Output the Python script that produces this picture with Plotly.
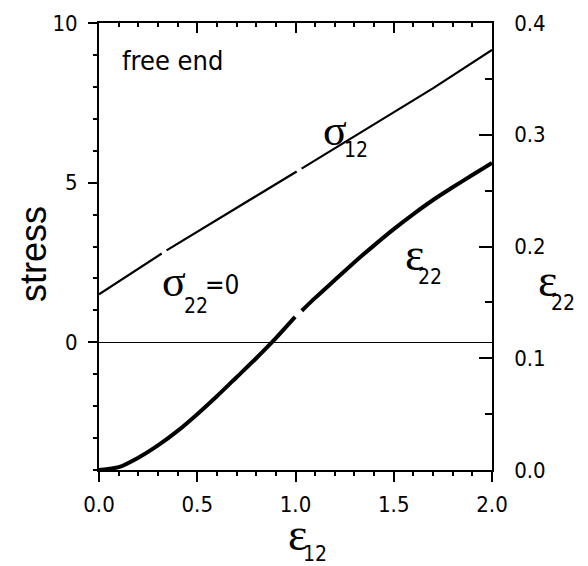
"""
Wolny koniec: naprężenie sigma_12 i odkształcenie eps_22 w funkcji eps_12 (sigma_22 = 0).
"""

import plotly.graph_objects as go

# odczyt z wykresu (None = przerwa w linii)
EPS12_SIG = [0.0, 0.319, None, 0.344, 0.768, 0.921, 1.006, None, 1.031, 1.243, 1.498, 1.701, 2.0]
SIGMA12 = [1.50, 2.78, None, 2.88, 4.47, 5.04, 5.35, None, 5.44, 6.24, 7.19, 7.96, 9.16]

EPS12_EPS = [0.0, 0.1, 0.2, 0.3, 0.4, 0.5, 0.6, 0.7, 0.8, 0.9, 0.998, None,
             1.032, 1.1, 1.2, 1.3, 1.4, 1.5, 1.6, 1.7, 1.8, 1.9, 2.0]
EPS22 = [0.0, 0.0025, 0.011, 0.022, 0.035, 0.050, 0.066, 0.083, 0.100, 0.118, 0.137, None,
         0.1425, 0.154, 0.170, 0.186, 0.201, 0.2155, 0.229, 0.2416, 0.253, 0.264, 0.2747]

X_RANGE = [0, 2]
STRESS_RANGE = [-4, 10]
EPS22_RANGE = [0, 0.4]

NARROW = "Liberation Sans Narrow, Arial Narrow, DejaVu Sans Condensed, Liberation Sans, sans-serif"
SERIF = "Liberation Serif, Times New Roman, serif"
SANS = "Liberation Sans, Arial, sans-serif"
W, H = 588, 566
ML, MR, MT, MB = 99, 96, 23, 96


def txt(text, x, y, size, family=NARROW, ref="data", **kw):
    a = dict(text=text, x=x, y=y, showarrow=False, font=dict(family=family, size=size, color="black"),
             xanchor="center", yanchor="middle")
    if ref == "paper":
        a.update(xref="paper", yref="paper")
    else:
        a.update(xref="x", yref="y")
    a.update(kw)
    return a


fig = go.Figure()
fig.add_trace(go.Scatter(x=EPS12_SIG, y=SIGMA12, mode="lines", line=dict(color="black", width=2.2),
                         connectgaps=False, showlegend=False, hoverinfo="skip"))
fig.add_trace(go.Scatter(x=EPS12_EPS, y=EPS22, mode="lines", yaxis="y2",
                         line=dict(color="black", width=4, shape="spline", smoothing=0.6),
                         connectgaps=False, showlegend=False, hoverinfo="skip"))
# pusty ślad, żeby górna oś (xaxis2) się narysowała
fig.add_trace(go.Scatter(x=[None], y=[None], xaxis="x2", showlegend=False, hoverinfo="skip"))

tickfont = dict(family=NARROW, size=22, color="black")
common = dict(showgrid=False, automargin=False, showline=True, linecolor="black", tickwidth=1.5, tickcolor="black")
fig.update_layout(
    width=W,
    height=H,
    margin=dict(l=ML, r=MR, t=MT, b=MB, autoexpand=False),
    plot_bgcolor="white",
    paper_bgcolor="white",
    xaxis=dict(range=X_RANGE, zeroline=False, linewidth=1.5,
               ticks="outside", ticklen=10, dtick=0.5, tick0=0,
               tickformat=".1f", tickfont=tickfont, ticklabelstandoff=4,
               minor=dict(ticks="outside", ticklen=4, tickwidth=1.5, tickcolor="black", dtick=0.1, showgrid=False),
               **common),
    xaxis2=dict(range=X_RANGE, overlaying="x", side="top", anchor="y", zeroline=False,
                linewidth=1.5, showticklabels=False, ticks="inside", ticklen=10, dtick=0.5, tick0=0,
                minor=dict(ticks="inside", ticklen=4, tickwidth=1.5, tickcolor="black", dtick=0.1, showgrid=False),
                **common),
    yaxis=dict(range=STRESS_RANGE, zeroline=True, zerolinecolor="black", zerolinewidth=1,
               linewidth=2, ticks="outside", ticklen=9, dtick=5, tick0=0, tickfont=tickfont, ticklabelstandoff=6,
               minor=dict(ticks="outside", ticklen=4, tickwidth=1.5, tickcolor="black", dtick=1, showgrid=False),
               **common),
    yaxis2=dict(range=EPS22_RANGE, overlaying="y", side="right", anchor="x", zeroline=False,
                linewidth=1.5, ticks="inside", ticklen=13, dtick=0.1, tick0=0, tickformat=".1f",
                tickfont=tickfont, ticklabelstandoff=16,
                minor=dict(ticks="inside", ticklen=7, tickwidth=1.5, tickcolor="black", dtick=0.05, showgrid=False),
                **common),
)

ann = [
    txt("free end", 0.107, 8.83, 27, xanchor="left"),
    # sigma_12
    txt("σ", 1.201, 6.62, 44, SERIF),
    txt("12", 1.308, 6.03, 21),
    # sigma_22 = 0
    txt("σ", 0.382, 1.90, 44, SERIF),
    txt("22", 0.494, 1.125, 21),
    txt("=0", 0.626, 1.78, 26),
    # eps_22 w polu wykresu
    txt("ε", 1.608, 2.75, 46, SERIF),
    txt("22", 1.684, 2.06, 21),
    # tytuły osi
    txt("ε", 1.140, 0.425, 46, SERIF, ref="paper"),
    txt("22", 1.181, 0.374, 21, ref="paper"),
    txt("ε", 0.504, -0.145, 46, SERIF, ref="paper"),
    txt("12", 0.550, -0.188, 21, ref="paper"),
    txt("stress", -0.168, 0.483, 36, SANS, ref="paper", textangle=-90),
]
fig.update_layout(annotations=ann)

# bez domyślnego marginesu body, żeby figura zajęła całe okno
fig.write_html("out.html", config={"displayModeBar": False},
               post_script="document.body.style.margin='0';")
